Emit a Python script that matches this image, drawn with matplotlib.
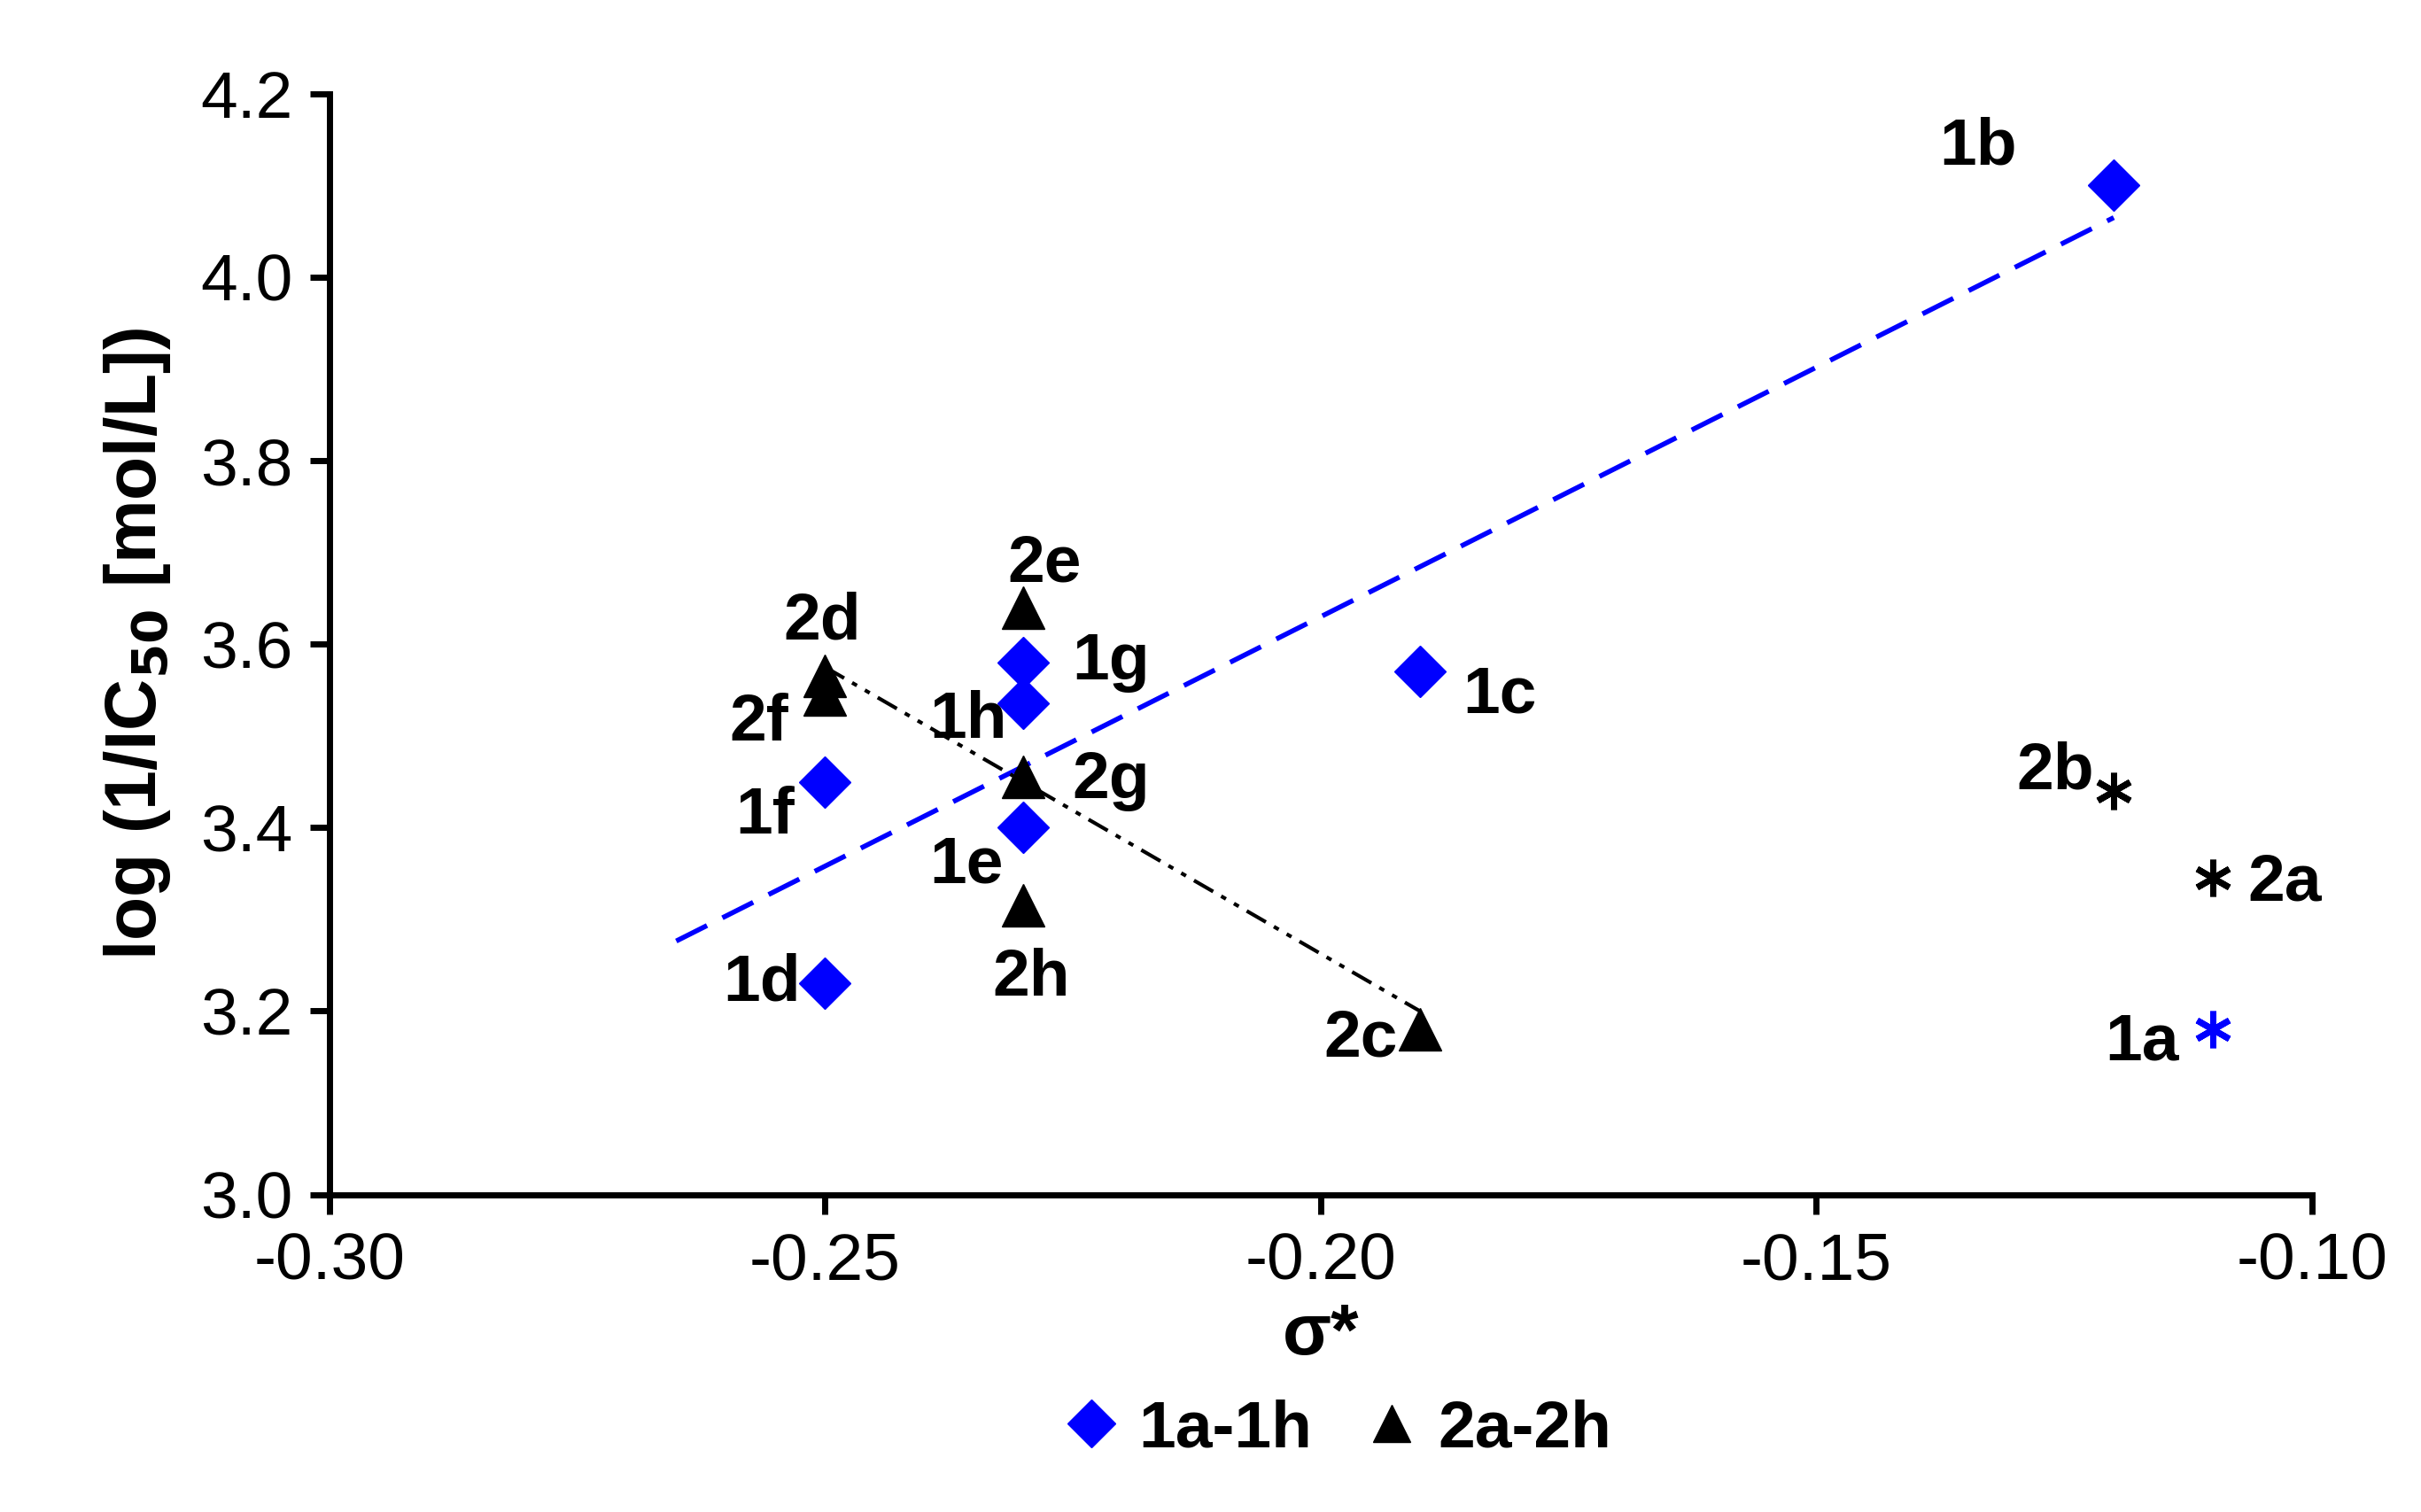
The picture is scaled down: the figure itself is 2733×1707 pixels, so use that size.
import numpy as np
import matplotlib
matplotlib.use("Agg")
import matplotlib.pyplot as plt

plt.rcParams['font.family'] = ['Liberation Sans', 'DejaVu Sans']

s1_labels = ['1b', '1c', '1g', '1h', '1e', '1f', '1d']
s1_x = [-0.12, -0.19, -0.23, -0.23, -0.23, -0.25, -0.25]
s1_y = [4.10, 3.57, 3.58, 3.535, 3.40, 3.45, 3.23]
s2_labels = ['2e', '2d', '2f', '2g', '2h', '2c']
s2_x = [-0.23, -0.25, -0.25, -0.23, -0.23, -0.19]
s2_y = [3.64, 3.565, 3.545, 3.455, 3.315, 3.18]
out_labels = ['1a', '2a', '2b']
out_x = [-0.11, -0.11, -0.12]
out_y = [3.18, 3.345, 3.44]
out_colors = ['#0000FF', 'black', 'black']

fit1_range = [-0.265, -0.12]
fit2_range = [-0.25, -0.19]

fig = plt.figure(figsize=(27.33, 17.07), dpi=100)
ax = fig.add_axes([0.136, 0.21, 0.819, 0.728])

p1 = np.polyfit(s1_x, s1_y, 1)
p2 = np.polyfit(s2_x, s2_y, 1)
xx1 = np.array(fit1_range); xx2 = np.array(fit2_range)
ax.plot(xx1, np.polyval(p1, xx1), color='#0000FF', ls=(0, (7, 3.5)), lw=4, zorder=1)
ax.plot(xx2, np.polyval(p2, xx2), color='black', ls=(0, (6, 2.5, 1.5, 2.5, 1.5, 2.5)), lw=3, zorder=1)

ax.plot(s1_x, s1_y, 'D', color='#0000FF', ms=30, ls='none', label='1a-1h', zorder=3)
ax.plot(s2_x, s2_y, '^', color='black', ms=34, ls='none', label='2a-2h', zorder=3)
for x, y, c in zip(out_x, out_y, out_colors):
    ax.plot(x, y, marker=(6, 2, 0), color=c, ms=30, mew=5, ls='none', zorder=3)

fs = 54
offsets = {
    '1b': (-142, 31), '1c': (35, -19), '1g': (40, 0), '1h': (-76, -14),
    '1e': (-76, -31), '1f': (-73, -28), '1d': (-83, 0),
    '2e': (-13, 35), '2d': (-34, 44), '2f': (-78, -23), '2g': (40, -3),
    '2h': (-25, -59), '2c': (-78, -8), '1a': (-88, -11), '2a': (28, -4), '2b': (-79, 16),
}
for labs, xs, ys in [(s1_labels, s1_x, s1_y), (s2_labels, s2_x, s2_y), (out_labels, out_x, out_y)]:
    for l, x, y in zip(labs, xs, ys):
        ax.annotate(l, (x, y), xytext=offsets[l], textcoords='offset points',
                    fontsize=fs, fontweight='bold', va='center', ha='left')

ax.set_xlim(-0.30, -0.10)
ax.set_ylim(3.0, 4.2)
ax.set_xticks(np.arange(-0.30, -0.099, 0.05))
ax.set_yticks(np.arange(3.0, 4.21, 0.2))
ax.xaxis.set_major_formatter(matplotlib.ticker.FormatStrFormatter('%.2f'))
ax.yaxis.set_major_formatter(matplotlib.ticker.FormatStrFormatter('%.1f'))
for s in ['top', 'right']:
    ax.spines[s].set_visible(False)
for s in ['left', 'bottom']:
    ax.spines[s].set_linewidth(5)
ax.tick_params(direction='out', length=16, width=5, labelsize=fs, pad=14)
ax.set_xlabel('σ*', fontsize=58, fontweight='bold', labelpad=8)
ax.set_ylabel('log (1/IC$_{\\mathbf{50}}$ [mol/L])', fontsize=58, fontweight='bold', labelpad=22)

fig.legend(loc='lower center', bbox_to_anchor=(0.55, -0.005), ncol=2, frameon=False,
           prop={'weight': 'bold', 'size': fs}, handletextpad=0.1, columnspacing=0.6,
           markerscale=0.9, handlelength=1.2)
fig.savefig('out.png', dpi=100)
